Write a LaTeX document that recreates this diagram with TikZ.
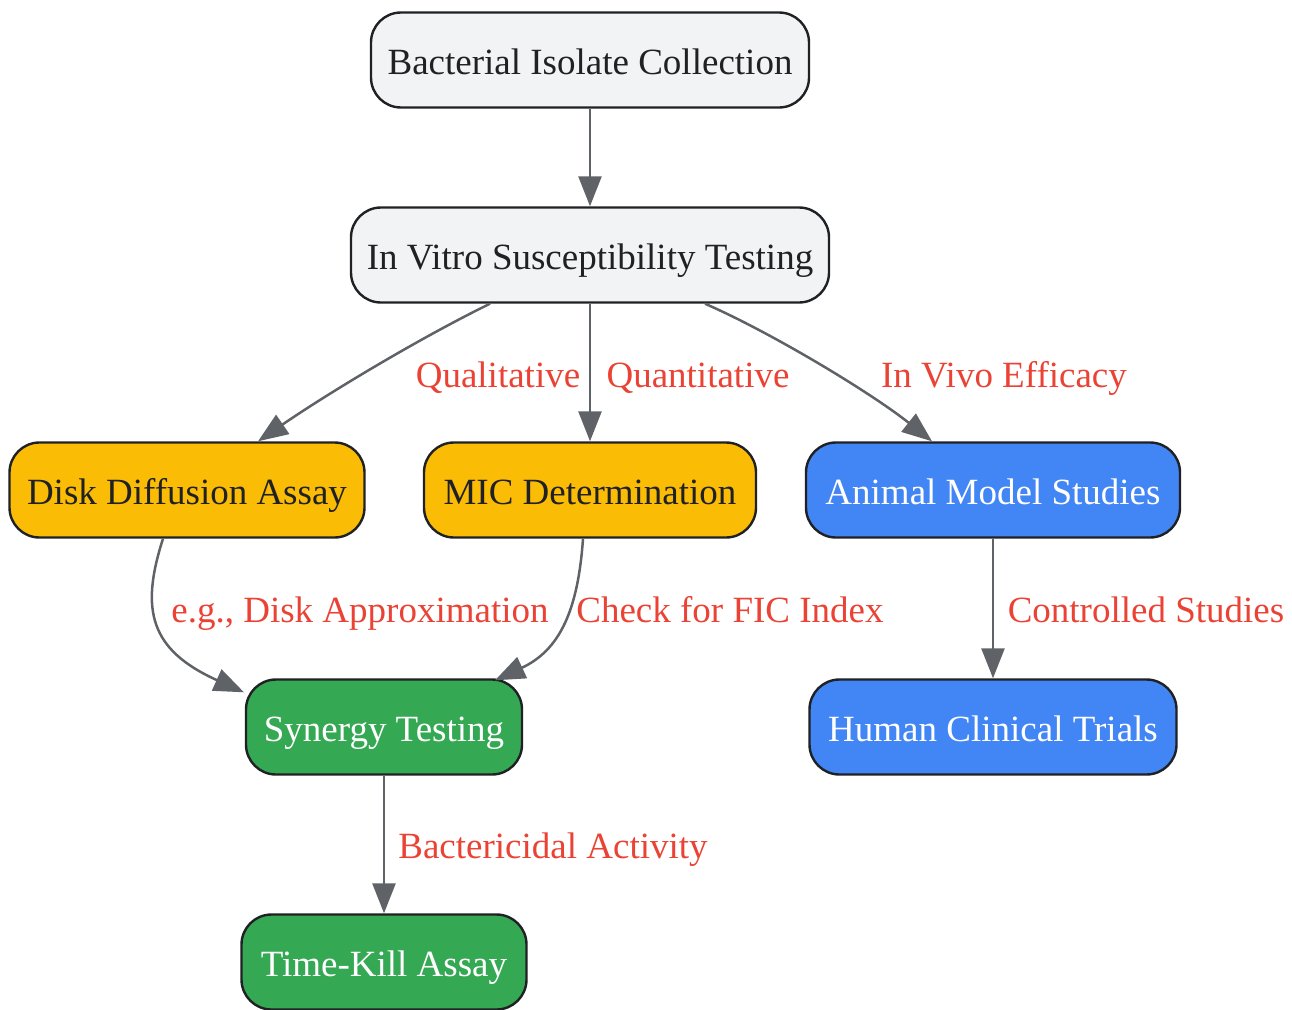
\documentclass[tikz,border=0pt]{standalone}
\usepackage{fontspec}
\setmainfont{Liberation Serif}
\usetikzlibrary{arrows.meta}
\definecolor{gfill}{HTML}{F1F3F4}
\definecolor{yel}{HTML}{FBBC05}
\definecolor{blu}{HTML}{4285F4}
\definecolor{grn}{HTML}{34A853}
\definecolor{lab}{HTML}{EA4335}
\definecolor{edgec}{HTML}{5F6368}
\definecolor{txt}{HTML}{202124}
\definecolor{bord}{HTML}{202124}
\begin{document}
\begin{tikzpicture}[x=1pt,y=-1pt,
  box/.style={draw=bord, line width=2.4pt, rounded corners=30pt, minimum height=95pt, inner sep=0pt, text height=28pt, text depth=0pt, font=\fontsize{37}{42}\selectfont},
  greybox/.style={box, fill=gfill, text=txt},
  yelbox/.style={box, fill=yel, text=txt},
  blubox/.style={box, fill=blu, text=white},
  grnbox/.style={box, fill=grn, text=white},
  conn/.style={draw=edgec, line width=2.5pt, -{Triangle[length=30pt,width=23pt]}},
  lbl/.style={text=lab, inner sep=0pt, anchor=base, font=\fontsize{37}{42}\selectfont}
]
\useasboundingbox (0,0) rectangle (1292,1009);

\node[greybox, minimum width=438pt] (bact) at (590,60) {Bacterial Isolate Collection};
\node[greybox, minimum width=478pt] (vitro) at (590,255) {In Vitro Susceptibility Testing};
\node[yelbox, minimum width=355pt] (disk) at (187,490) {Disk Diffusion Assay};
\node[yelbox, minimum width=332pt] (mic) at (590,490) {MIC Determination};
\node[blubox, minimum width=374pt] (animal) at (993,490) {Animal Model Studies};
\node[grnbox, minimum width=276pt] (syn) at (384,727) {Synergy Testing};
\node[blubox, minimum width=367pt] (human) at (993,727) {Human Clinical Trials};
\node[grnbox, minimum width=285pt] (tk) at (384,962) {Time-Kill Assay};

\draw[conn] (bact.south) -- (vitro.north);
\draw[conn] ([xshift=-100pt]vitro.south) .. controls (420,338) and (330,392) .. ([xshift=71pt]disk.north);
\draw[conn] (vitro.south) -- (mic.north);
\draw[conn] ([xshift=115pt]vitro.south) .. controls (770,332) and (870,392) .. ([xshift=-61pt]animal.north);
\draw[conn] ([xshift=-24pt]disk.south) .. controls (140,610) and (150,650) .. ([xshift=-140pt,yshift=-14pt]syn.north);
\draw[conn] ([xshift=-7pt]mic.south) .. controls (578,610) and (560,650) .. ([xshift=111pt,yshift=-2pt]syn.north);
\draw[conn] (animal.south) -- (human.north);
\draw[conn] (syn.south) -- (tk.north);

\node[lbl] (l1) at (498,387) {Qualitative};
\node[lbl] (l2) at (698,387) {Quantitative};
\node[lbl] (l3) at (1004,387) {In Vivo Efficacy};
\node[lbl] (l4) at (360,622) {e.g., Disk Approximation};
\node[lbl] (l5) at (730,622) {Check for FIC Index};
\node[lbl] (l6) at (1146,622) {Controlled Studies};
\node[lbl] (l7) at (553,858) {Bactericidal Activity};
\end{tikzpicture}
\end{document}
